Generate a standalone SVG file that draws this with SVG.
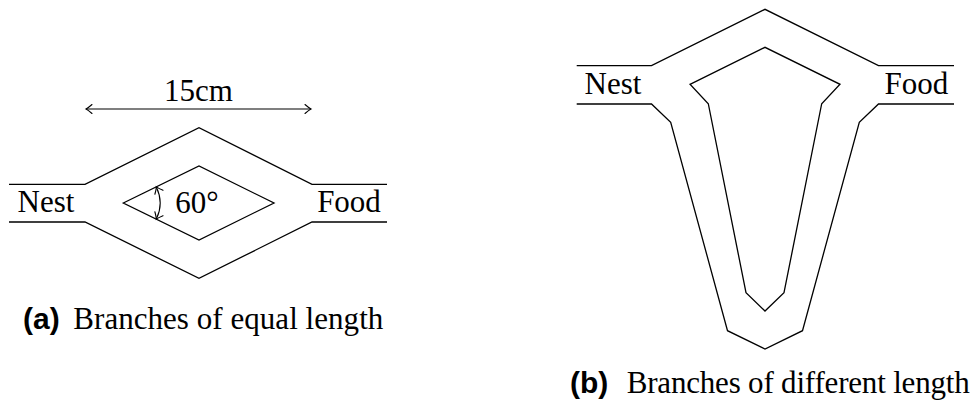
<svg xmlns="http://www.w3.org/2000/svg" width="974" height="410" viewBox="0 0 974 410">
  <style>
    .wall { fill: none; stroke: #000; stroke-width: 1.3; stroke-linejoin: miter; }
    .dim { fill: none; stroke: #000; stroke-width: 1.1; }
    .lbl { font-family: "Liberation Serif", "Times New Roman", serif; font-size: 31px; fill: #000; }
    .cap { font-family: "Liberation Serif", "Times New Roman", serif; font-size: 31px; fill: #000; }
    .tag { font-family: "Liberation Sans", Arial, sans-serif; font-size: 30px; font-weight: bold; fill: #000; }
  </style>
  <defs>
    <!-- open "to"-style arrow tip -->
    <marker id="tip" viewBox="-8 -6 10 12" markerWidth="10" markerHeight="12" refX="0" refY="0" orient="auto-start-reverse" markerUnits="userSpaceOnUse">
      <path d="M-6,-4.5 Q-2,-1 0,0 Q-2,1 -6,4.5" fill="none" stroke="#000" stroke-width="1.1" stroke-linecap="round"/>
    </marker>
  </defs>

  <!-- (a) two branches of equal length -->
  <g id="equal-branches">
    <path class="wall" d="M9,184.3 L85,184.3 L199,127.7 L312,184.3 L387,184.3"/>
    <path class="wall" d="M9,222 L85,222 L199,278.3 L312,222 L387,222"/>
    <path class="wall" d="M123.3,203 L199,166 L274,203 L199,240 Z"/>
    <text class="lbl" x="46" y="211.7" text-anchor="middle">Nest</text>
    <text class="lbl" x="349" y="211.7" text-anchor="middle">Food</text>
  </g>

  <g id="dimensions">
    <line class="dim" x1="86" y1="109" x2="311" y2="109" marker-start="url(#tip)" marker-end="url(#tip)"/>
    <text class="lbl" x="198.5" y="100.7" text-anchor="middle">15cm</text>
    <path class="dim" d="M156.3,186.9 A36.7,36.7 0 0 1 156.3,219.1" marker-start="url(#tip)" marker-end="url(#tip)"/>
    <text class="lbl" x="197" y="213" text-anchor="middle">60°</text>
  </g>

  <!-- (b) two branches of different length -->
  <g id="unequal-branches">
    <path class="wall" d="M576.7,65.7 L651.5,65.7 L765,9.3 L878.5,65.7 L954,65.7"/>
    <path class="wall" d="M576.7,104 L651.5,104 L670.7,122.3 L727.5,330.7 L765,349 L802.5,330.7 L859.3,122.3 L878.5,104 L954,104"/>
    <path class="wall" d="M690,84.3 L765,47.3 L840,84.3 L821.7,103.7 L784,292.7 L765,311 L746,292.7 L708.3,103.7 Z"/>
    <text class="lbl" x="613" y="94" text-anchor="middle">Nest</text>
    <text class="lbl" x="916.3" y="94" text-anchor="middle">Food</text>
  </g>

  <!-- captions -->
  <g id="caption-a">
    <text class="tag" x="23" y="329">(a)</text>
    <text class="cap" x="73.3" y="329" textLength="310" lengthAdjust="spacing">Branches of equal length</text>
  </g>
  <g id="caption-b">
    <text class="tag" x="570" y="393">(b)</text>
    <text class="cap" x="626.7" y="393" textLength="343" lengthAdjust="spacing">Branches of different length</text>
  </g>
</svg>
